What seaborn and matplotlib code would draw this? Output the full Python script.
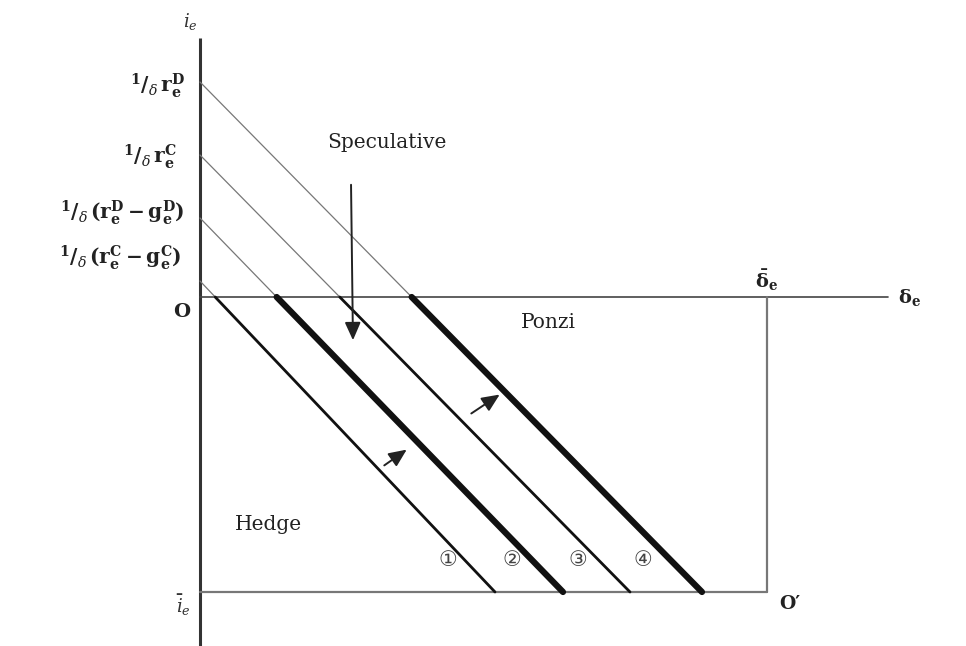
import numpy as np
import pandas as pd
import matplotlib
matplotlib.use("Agg")
import matplotlib.pyplot as plt
import seaborn as sns

# Regime boundaries: intercepts on the i_e axis and where each boundary
# meets the lower limit i_e-bar.
boundary_ids = ["1", "2", "3", "4"]
intercepts = [0.16, 0.79, 1.42, 2.15]
bottom_ends = [2.95, 3.63, 4.30, 5.02]
boundary_widths = [2.0, 4.5, 2.0, 4.5]
circled = ["①", "②", "③", "④"]

intercept_labels = [
    r"$^{1}/_{\delta}\,\mathrm{r_e^D}$",
    r"$^{1}/_{\delta}\,\mathrm{r_e^C}$",
    r"$^{1}/_{\delta}\,(\mathrm{r_e^D}-\mathrm{g_e^D})$",
    r"$^{1}/_{\delta}\,(\mathrm{r_e^C}-\mathrm{g_e^C})$",
]
label_y = [2.11, 1.40, 0.84, 0.39]
label_x = [-0.15, -0.23, -0.15, -0.18]

i_bar = -2.95        # lower bound of i_e
delta_bar = 5.67     # upper bound of delta_e
axis_end = 6.88

sns.set_theme(style="white")
plt.rcParams["font.family"] = ["DejaVu Serif", "DejaVu Sans"]
plt.rcParams["mathtext.fontset"] = "custom"
plt.rcParams["mathtext.rm"] = "DejaVu Serif:bold"
plt.rcParams["mathtext.it"] = "DejaVu Serif:italic"
plt.rcParams["mathtext.bf"] = "DejaVu Serif:bold"

fig = plt.figure(figsize=(9.66, 6.46), dpi=100)
ax = fig.add_axes([0, 0, 1, 1])
ax.set_xlim(-2.00, 7.66)
ax.set_ylim(-3.49, 2.97)
ax.axis("off")

# axes of the diagram
ax.plot([0, 0], [2.59, -3.49], color="#333333", lw=2.2, solid_capstyle="butt")
ax.plot([0, axis_end], [0, 0], color="#444444", lw=1.2)
ax.plot([0, delta_bar], [i_bar, i_bar], color="#777777", lw=1.6)
ax.plot([delta_bar, delta_bar], [0, i_bar], color="#777777", lw=1.6)

# boundary lines: thin above the delta axis, heavy inside the region
for bid, b, end, w in zip(boundary_ids, intercepts, bottom_ends, boundary_widths):
    slope = (b - i_bar) / end
    cross = b / slope
    thin = pd.DataFrame({"x": [0, cross], "y": [b, 0]})
    heavy = pd.DataFrame({"x": [cross, end], "y": [0, i_bar]})
    sns.lineplot(data=thin, x="x", y="y", ax=ax, color="#777777", lw=0.9,
                 sort=False, estimator=None)
    sns.lineplot(data=heavy, x="x", y="y", ax=ax, color="#111111", lw=w,
                 sort=False, estimator=None)

# intercept labels
for txt, xx, yy in zip(intercept_labels, label_x, label_y):
    ax.text(xx, yy, txt, ha="right", va="center", fontsize=14.5, color="#222222")

ax.text(-0.10, 2.76, r"$i_e$", ha="center", va="center", fontsize=13, color="#333333")
ax.text(-0.18, -0.15, "O", ha="center", va="center", fontsize=14,
        fontweight="bold", color="#222222")
ax.text(-0.17, -3.08, r"$\bar{i}_e$", ha="center", va="center", fontsize=13, color="#333333")
ax.text(delta_bar, 0.17, r"$\bar{\mathrm{\delta}}_\mathrm{e}$", ha="center", va="center",
        fontsize=14, color="#222222")
ax.text(7.10, -0.01, r"$\mathrm{\delta_e}$", ha="center", va="center", fontsize=14,
        color="#222222")
ax.text(5.90, -3.07, "O′", ha="center", va="center", fontsize=13.5,
        fontweight="bold", color="#222222")

# regime names
ax.text(1.87, 1.54, "Speculative", ha="center", va="center", fontsize=14.5,
        color="#222222")
ax.text(3.48, -0.26, "Ponzi", ha="center", va="center", fontsize=14.5,
        color="#222222")
ax.text(0.68, -2.28, "Hedge", ha="center", va="center", fontsize=14.5,
        color="#222222")

# boundary numbers
for lab, xx in zip(circled, [2.48, 3.12, 3.78, 4.43]):
    ax.text(xx, -2.63, lab, ha="center", va="center", fontsize=15,
            family=["DejaVu Sans"], color="#444444")

# shift arrows
arrow_style = dict(arrowstyle="-|>,head_length=0.9,head_width=0.4",
                   color="#222222", lw=1.4)
ax.annotate("", xy=(1.53, -0.46), xytext=(1.51, 1.15), arrowprops=arrow_style)
ax.annotate("", xy=(2.09, -1.51), xytext=(1.82, -1.70), arrowprops=arrow_style)
ax.annotate("", xy=(3.02, -0.96), xytext=(2.69, -1.18), arrowprops=arrow_style)

fig.savefig("out.png", dpi=100, facecolor="white")
